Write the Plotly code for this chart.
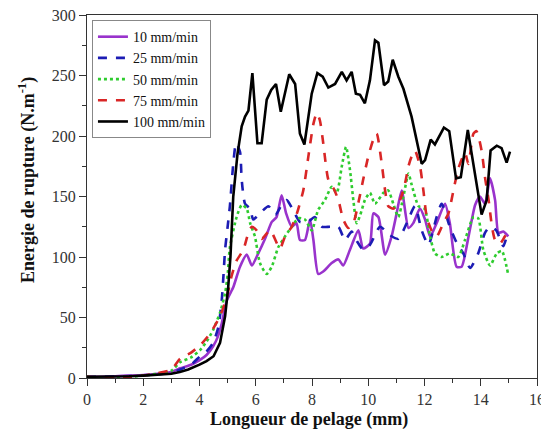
import plotly.graph_objects as go

# ---- data ----
names = ["10 mm/min", "25 mm/min", "50 mm/min", "75 mm/min", "100 mm/min"]

x10 = [0, 0.5, 1, 1.5, 2, 2.5, 3, 3.31, 3.7, 4.02, 4.25, 4.48, 4.65, 4.79, 4.97, 5.2, 5.44, 5.68, 5.86, 6.09,
       6.33, 6.57, 6.74, 6.92, 7.08, 7.28, 7.45, 7.57, 7.75, 7.93, 8.05, 8.22, 8.4, 8.7, 8.94, 9.11, 9.35, 9.65,
       9.82, 10.06, 10.18, 10.36, 10.6, 10.83, 11.0, 11.19, 11.43, 11.6, 11.84, 12.02, 12.2, 12.43, 12.73, 12.9,
       13.14, 13.32, 13.55, 13.8, 13.97, 14.15, 14.33, 14.51, 14.63, 14.8, 14.98]
y10 = [1, 1, 1.5, 2, 2.5, 3.5, 5, 8, 11, 15, 19, 26, 34, 45, 64, 75, 92, 102, 93, 103,
       115, 129, 133, 151, 136, 125, 128, 114, 114, 131, 114, 86, 88, 95, 98, 93, 106, 122,
       107, 111, 136, 133, 102, 117, 135, 155, 124, 128, 140, 131, 117, 128, 144, 128,
       92, 92, 115, 143, 150, 144, 165, 147, 120, 121, 117]

x25 = [0, 0.5, 1, 1.5, 2, 2.5, 3, 3.31, 3.7, 4.02, 4.25, 4.48, 4.67, 4.79, 4.85, 4.91, 5.0, 5.08, 5.2, 5.3,
       5.44, 5.5, 5.62, 5.8, 5.91, 6.15, 6.45, 6.7, 6.92, 7.1, 7.3, 7.57, 7.85, 8.1, 8.35, 8.64, 8.94, 9.17,
       9.41, 9.6, 9.82, 10.06, 10.42, 10.77, 11.07, 11.37, 11.66, 11.9, 12.14, 12.43, 12.61, 12.9, 13.14,
       13.38, 13.62, 13.91, 14.15, 14.33, 14.55, 14.8, 14.92]
y25 = [1, 1, 1.2, 1.6, 2.2, 3, 4.5, 7, 11, 18, 22, 29, 42, 64, 84, 106, 125, 142, 177, 194,
       187, 164, 144, 140, 131, 136, 142, 135, 143, 147, 140, 129, 129, 133, 125, 125, 125, 114,
       121, 113, 106, 110, 125, 118, 115, 128, 142, 122, 110, 133, 144, 125, 112,
       103, 91, 103, 120, 125, 122, 109, 117]

x50 = [0, 0.5, 1, 1.5, 2, 2.5, 3, 3.31, 3.7, 4.02, 4.25, 4.49, 4.73, 4.91, 5.0, 5.08, 5.32, 5.5, 5.68, 5.8,
       5.97, 6.15, 6.39, 6.57, 6.8, 7.04, 7.28, 7.51, 7.75, 7.99, 8.22, 8.46, 8.7, 8.88, 9.06, 9.21, 9.35,
       9.47, 9.59, 9.72, 9.88, 10.06, 10.24, 10.54, 10.71, 10.89, 11.07, 11.25, 11.43, 11.54, 11.79, 12.0,
       12.2, 12.37, 12.61, 12.9, 13.2, 13.44, 13.74, 13.91, 14.09, 14.33, 14.57, 14.75, 14.98]
y50 = [1, 0.5, 0.5, 1, 2, 3.5, 6, 13, 17, 23, 30, 40, 54, 70, 85, 108, 133, 143, 140, 128,
       117, 95, 86, 92, 108, 117, 125, 132, 131, 122, 139, 147, 158, 153, 175, 191, 172,
       147, 128, 135, 147, 153, 144, 153, 155, 144, 133, 150, 169, 160, 142, 140,
       117, 103, 100, 103, 100, 114, 133, 132, 106, 93, 103, 105, 85]

x75 = [0, 0.5, 1, 1.5, 2, 2.5, 3, 3.31, 3.7, 4.02, 4.25, 4.49, 4.73, 4.97, 5.15, 5.32, 5.56, 5.74, 5.86, 6.03,
       6.21, 6.51, 6.86, 7.04, 7.28, 7.45, 7.69, 7.87, 8.05, 8.17, 8.28, 8.4, 8.58, 8.76, 8.94, 9.11, 9.29,
       9.47, 9.65, 9.82, 10.0, 10.18, 10.3, 10.48, 10.6, 10.71, 10.9, 11.13, 11.31, 11.43, 11.54, 11.66,
       11.84, 11.96, 12.08, 12.25, 12.43, 12.67, 12.85, 13.03, 13.2, 13.44, 13.56, 13.74, 13.85, 14.03,
       14.15, 14.28, 14.4, 14.51, 14.68, 14.86, 14.98]
y75 = [1, 0.5, 0.5, 1, 2, 4, 7, 16, 21, 27, 33, 41, 51, 67, 85, 97, 106, 120, 125, 122,
       115, 122, 107, 117, 125, 135, 155, 183, 210, 219, 213, 194, 164, 157, 147, 131, 124,
       128, 145, 164, 183, 197, 202, 177, 155, 142, 140, 147, 161, 175, 183, 188,
       175, 155, 133, 122, 117, 128, 136, 155, 173, 186, 177, 202, 204, 188,
       166, 147, 125, 114, 111, 117, 120]

x100 = [0, 0.5, 1, 1.5, 2, 2.5, 3, 3.3, 3.6, 4.0, 4.25, 4.5, 4.73, 4.91, 5.02, 5.1, 5.2, 5.35, 5.5, 5.62,
        5.74, 5.88, 6.06, 6.21, 6.39, 6.55, 6.72, 6.89, 7.05, 7.19, 7.40, 7.57, 7.73, 7.99, 8.19, 8.38, 8.58,
        8.82, 9.06, 9.23, 9.41, 9.56, 9.71, 9.88, 10.06, 10.24, 10.36, 10.56, 10.71, 10.87, 11.07, 11.25,
        11.54, 11.72, 11.90, 12.02, 12.22, 12.37, 12.69, 12.88, 13.12, 13.29, 13.54, 14.03, 14.21, 14.35,
        14.57, 14.74, 14.92, 15.04]
y100 = [1, 1, 1.2, 1.5, 2, 2.5, 3.5, 5, 7, 11, 14, 18, 29, 51, 75, 100, 150, 185, 208, 216,
        221, 252, 194, 194, 230, 238, 243, 220, 238, 251, 243, 202, 193, 235, 252, 249, 240,
        243, 253, 246, 253, 235, 234, 227, 246, 279, 277, 242, 245, 263, 249, 239,
        216, 197, 177, 180, 197, 193, 207, 204, 165, 166, 205, 135, 147, 188,
        192, 190, 178, 187]

xs = [x10, x25, x50, x75, x100]
ys = [y10, y25, y50, y75, y100]
colors = ["#9933CC", "#1C1CB4", "#2FCC2F", "#D92626", "#000000"]
dashes = ["solid", "dash", "dot", "dash", "solid"]
shapes = ["spline", "spline", "spline", "spline", "linear"]

xticks = [0, 2, 4, 6, 8, 10, 12, 14, 16]
yticks = [0, 50, 100, 150, 200, 250, 300]
xtitle = "<b>Longueur de pelage (mm)</b>"
ytitle = "<b>Energie de rupture (N.m<sup>-1</sup>)</b>"

fig = go.Figure()
for n, x, y, c, d, s in zip(names, xs, ys, colors, dashes, shapes):
    fig.add_trace(go.Scatter(x=x, y=y, mode="lines", name=n,
                             line=dict(color=c, width=2.6, dash=d, shape=s, smoothing=0.6)))

font = "Liberation Serif, Times New Roman, serif"
# the page body has an 8px margin, so the figure is sized/offset to compensate
fig.update_layout(
    width=541, height=429,
    margin=dict(l=79, r=12, t=7, b=59),
    paper_bgcolor="white", plot_bgcolor="white",
    font=dict(family=font, size=16, color="#222"),
    showlegend=True,
    legend=dict(x=0.011, y=0.986, xanchor="left", yanchor="top",
                bordercolor="#888", borderwidth=1, bgcolor="white",
                font=dict(family=font, size=14, color="#111"),
                itemwidth=30, tracegroupgap=0),
    annotations=[
        dict(text=xtitle, xref="paper", yref="paper", x=0.493, y=-0.1157,
             xanchor="center", yanchor="middle", showarrow=False,
             font=dict(family=font, size=18, color="#111")),
        dict(text=ytitle, xref="paper", yref="paper", x=-0.1333, y=0.5455,
             xanchor="center", yanchor="middle", showarrow=False, textangle=-90,
             font=dict(family=font, size=18, color="#111")),
    ],
)
axis_common = dict(showgrid=False, zeroline=False, showline=True, linecolor="#333",
                   linewidth=1.3, mirror=True, ticks="outside", ticklen=7, tickwidth=1.2,
                   tickcolor="#333", automargin=False, ticklabeloverflow="allow",
                   tickfont=dict(family=font, size=16, color="#333"))
fig.update_xaxes(range=[0, 16], tickvals=xticks, ticktext=[str(v) for v in xticks],
                 minor=dict(dtick=1, ticks="outside", ticklen=4, tickcolor="#333", tickwidth=1.2),
                 **axis_common)
fig.update_yaxes(range=[0, 300], tickvals=yticks, ticktext=[str(v) for v in yticks],
                 minor=dict(dtick=25, ticks="outside", ticklen=4, tickcolor="#333", tickwidth=1.2),
                 **axis_common)

fig.write_html("out.html")
